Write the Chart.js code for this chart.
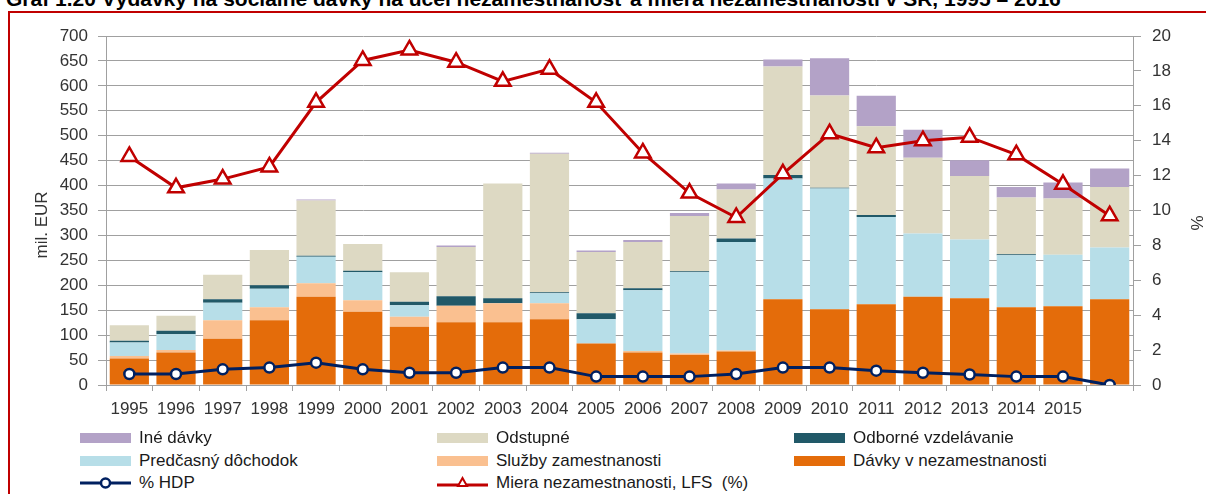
<!DOCTYPE html>
<html>
<head>
<meta charset="utf-8">
<script src="https://cdn.jsdelivr.net/npm/chart.js@4/dist/chart.umd.min.js"></script>
<style>
  body { margin: 0; background: #fff; width: 1206px; height: 494px; overflow: hidden; position: relative; font-family: "Liberation Sans", Arial, sans-serif; }
  #title { position: absolute; left: 6px; top: -12px; font-size: 21px; font-weight: bold; white-space: nowrap; color: #000; line-height: 21px; }
  #frame { position: absolute; left: 8px; top: 11px; width: 1300px; height: 600px; border: 2px solid #C00000; box-sizing: border-box; }
  #chart { position: absolute; left: 0; top: 0; }
  #legend { position: absolute; left: 0; top: 0; font-size: 17px; color: #1a1a1a; }
  .item { position: absolute; height: 22px; display: flex; align-items: center; white-space: pre; }
  .item svg { margin-right: 8px; }
</style>
</head>
<body>
<div id="title">Graf 1.20 Výdavky na sociálne dávky na účel nezamestnanosť a miera nezamestnanosti v SR, 1995 – 2016</div>
<div id="frame"></div>
<canvas id="chart" width="1206" height="430"></canvas>
<div id="legend"></div>
<script>
const years = ['1995','1996','1997','1998','1999','2000','2001','2002','2003','2004','2005','2006','2007','2008','2009','2010','2011','2012','2013','2014','2015',''];

// mil. EUR
const davky     = [53,65,93,130,177,147,117,126,126,132,83,65,60,67,172,152,162,177,174,156,158,172];
const sluzby    = [5,5,37,26,27,23,20,33,38,32,0,3,3,2,0,0,0,0,0,0,0,0];
const predcasny = [27,32,35,37,53,56,23,0,0,20,49,122,163,218,242,242,175,127,118,104,103,104];
const odborne   = [4,7,7,7,2,3,7,19,10,2,12,4,2,7,7,1.5,4,0,0,2,0,0];
const odstupne  = [31,30,49,71,111,54,59,99,230,278,123,93,111,98,218,185,178,152,127,114,113,121];
const ine       = [0,0,0,0,2,0,0,3,0,2,3,4,6,12,14,75,61,56,32,21,32,37];

// %
const hdp   = [0.63,0.63,0.9,1.0,1.28,0.9,0.7,0.7,1.0,1.0,0.48,0.48,0.48,0.63,1.0,1.0,0.82,0.7,0.6,0.48,0.48,0];
const miera = [13.1,11.3,11.8,12.5,16.2,18.6,19.2,18.5,17.4,18.1,16.2,13.3,11.0,9.6,12.1,14.4,13.6,14.0,14.2,13.2,11.5,9.7];

const gridColor = '#a0a0a0';
const tickFont = { family: '"Liberation Sans", Arial, sans-serif', size: 17 };

function bar(label, data, color) {
    return { type: 'bar', label: label, data: data, backgroundColor: color, yAxisID: 'y', order: 2,
             barPercentage: 0.84, categoryPercentage: 1.0, stack: 's' };
}

const datasets = [
    bar('Dávky v nezamestnanosti', davky, '#E46C0A'),
    bar('Služby zamestnanosti', sluzby, '#FAC090'),
    bar('Predčasný dôchodok', predcasny, '#B7DEE8'),
    bar('Odborné vzdelávanie', odborne, '#215968'),
    bar('Odstupné', odstupne, '#DDD9C3'),
    bar('Iné dávky', ine, '#B3A2C7'),
    { type: 'line', label: '% HDP', data: hdp, yAxisID: 'y1', order: 0,
      borderColor: '#002060', borderWidth: 3, pointRadius: 5, pointBorderWidth: 2.5,
      pointBackgroundColor: '#fff', pointBorderColor: '#002060', tension: 0 },
    { type: 'line', label: 'Miera nezamestnanosti, LFS  (%)', data: miera, yAxisID: 'y1', order: 1,
      borderColor: '#C00000', borderWidth: 3, pointStyle: 'triangle', pointRadius: 9, pointBorderWidth: 2.5,
      pointBackgroundColor: '#fff', pointBorderColor: '#C00000', tension: 0 }
];

const axisTitles = {
    id: 'axisTitles',
    afterDraw(chart) {
        const ctx = chart.ctx;
        ctx.save();
        ctx.fillStyle = '#333';
        ctx.font = '17px "Liberation Sans", Arial, sans-serif';
        ctx.textAlign = 'center';
        ctx.textBaseline = 'middle';
        ctx.translate(42, 225);
        ctx.rotate(-Math.PI / 2);
        ctx.fillText('mil. EUR', 0, 0);
        ctx.restore();
        ctx.save();
        ctx.fillStyle = '#333';
        ctx.font = '17px "Liberation Sans", Arial, sans-serif';
        ctx.textAlign = 'center';
        ctx.textBaseline = 'middle';
        ctx.translate(1198, 223);
        ctx.rotate(-Math.PI / 2);
        ctx.fillText('%', 0, 0);
        ctx.restore();
    }
};

new Chart(document.getElementById('chart'), {
    data: { labels: years, datasets: datasets },
    plugins: [axisTitles],
    options: {
        responsive: false,
        animation: false,
        devicePixelRatio: 1,
        layout: { padding: { top: 36, left: 0, right: 0, bottom: 0 } },
        plugins: { legend: { display: false }, tooltip: { enabled: false } },
        scales: {
            x: {
                stacked: true,
                offset: true,
                grid: { display: true, drawOnChartArea: false, drawTicks: true, tickLength: 6, color: gridColor, offset: true },
                border: { color: gridColor, width: 1 },
                ticks: { color: '#333', font: tickFont, padding: 8, maxRotation: 0, autoSkip: false },
                afterFit(s) { s.height = 45; }
            },
            y: {
                position: 'left',
                stacked: true,
                min: 0, max: 700,
                ticks: { stepSize: 50, color: '#333', font: tickFont, padding: 10 },
                grid: { color: gridColor, lineWidth: 1, tickLength: 8 },
                border: { color: gridColor, width: 1 },
                afterFit(s) { s.width = 106; }
            },
            y1: {
                position: 'right',
                min: 0, max: 20,
                ticks: { stepSize: 2, color: '#333', font: tickFont, padding: 11 },
                grid: { drawOnChartArea: false, color: gridColor, tickLength: 8 },
                border: { color: gridColor, width: 1 },
                afterFit(s) { s.width = 73; }
            }
        }
    }
});

// legend, 3 columns
const legendCols = [80, 437, 794];
const legendRows = [438, 461, 483];
const legendItems = [
    { label: 'Iné dávky', color: '#B3A2C7' },
    { label: 'Odstupné', color: '#DDD9C3' },
    { label: 'Odborné vzdelávanie', color: '#215968' },
    { label: 'Predčasný dôchodok', color: '#B7DEE8' },
    { label: 'Služby zamestnanosti', color: '#FAC090' },
    { label: 'Dávky v nezamestnanosti', color: '#E46C0A' },
    { label: '% HDP', line: '#002060', marker: 'circle' },
    { label: 'Miera nezamestnanosti, LFS  (%)', line: '#C00000', marker: 'triangle' }
];
const legend = document.getElementById('legend');
legendItems.forEach((it, i) => {
    const d = document.createElement('div');
    d.className = 'item';
    d.style.left = legendCols[i % 3] + 'px';
    d.style.top = (legendRows[Math.floor(i / 3)] - 11) + 'px';
    let svg;
    if (it.color) {
        svg = `<svg width="51" height="10"><rect x="0" y="0" width="51" height="10" fill="${it.color}"/></svg>`;
    } else if (it.marker === 'circle') {
        svg = `<svg width="51" height="14"><line x1="0" y1="7" x2="51" y2="7" stroke="${it.line}" stroke-width="3"/><circle cx="25.5" cy="7" r="4.5" fill="#fff" stroke="${it.line}" stroke-width="2.5"/></svg>`;
    } else {
        svg = `<svg width="51" height="14"><line x1="0" y1="9" x2="51" y2="9" stroke="${it.line}" stroke-width="3"/><polygon points="25.5,2 30,10 21,10" fill="#fff" stroke="${it.line}" stroke-width="2"/></svg>`;
    }
    d.innerHTML = svg + '<span>' + it.label + '</span>';
    legend.appendChild(d);
});
</script>
</body>
</html>
